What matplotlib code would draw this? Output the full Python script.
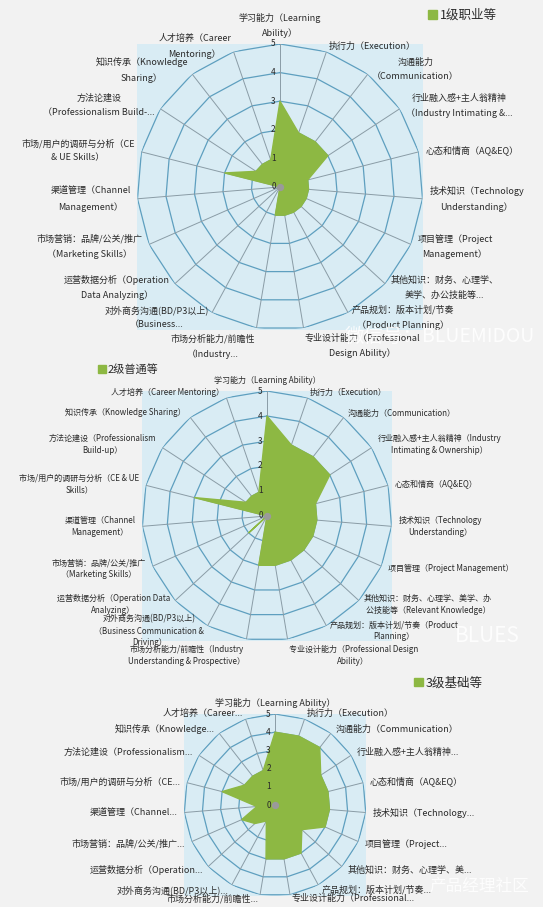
import numpy as np
import matplotlib.pyplot as plt
from matplotlib.patches import Rectangle

plt.rcParams['font.family'] = ['Noto Sans CJK SC', 'DejaVu Sans']

# skill scores per level, clockwise from the top (19 axes)
level_1 = [3, 2, 2, 2, 1, 1, 1, 1, 1, 1, 1, 0, 0, 0, 0, 2, 1, 1, 1]
level_2 = [4, 3, 3, 3, 2, 2, 2, 2, 2, 2, 2, 0, 1, 0, 0, 3, 1, 1, 1]
level_3 = [4, 4, 4, 3, 3, 3, 3, 2, 3, 3, 3, 1, 1.5, 2, 1, 3, 2, 2, 2]

legend_names = ['1级职业等', '2级普通等', '3级基础等']

# axis labels as they are wrapped / cut in each chart
labels_1 = [
    '学习能力（Learning\nAbility）',
    '执行力（Execution）',
    '沟通能力\n（Communication）',
    '行业融入感+主人翁精神\n（Industry Intimating &...',
    '心态和情商（AQ&EQ）',
    '技术知识（Technology\nUnderstanding）',
    '项目管理（Project\nManagement）',
    '其他知识：财务、心理学、\n美学、办公技能等...',
    '产品规划：版本计划/节奏\n（Product Planning）',
    '专业设计能力（Professional\nDesign Ability）',
    '市场分析能力/前瞻性\n（Industry...',
    '对外商务沟通(BD/P3以上)\n（Business...',
    '运营数据分析（Operation\nData Analyzing）',
    '市场营销：品牌/公关/推广\n（Marketing Skills）',
    '渠道管理（Channel\nManagement）',
    '市场/用户的调研与分析（CE\n& UE Skills）',
    '方法论建设\n（Professionalism Build-...',
    '知识传承（Knowledge\nSharing）',
    '人才培养（Career\nMentoring）',
]
labels_2 = [
    '学习能力（Learning Ability）',
    '执行力（Execution）',
    '沟通能力（Communication）',
    '行业融入感+主人翁精神（Industry\nIntimating & Ownership）',
    '心态和情商（AQ&EQ）',
    '技术知识（Technology\nUnderstanding）',
    '项目管理（Project Management）',
    '其他知识：财务、心理学、美学、办\n公技能等（Relevant Knowledge）',
    '产品规划：版本计划/节奏（Product\nPlanning）',
    '专业设计能力（Professional Design\nAbility）',
    '市场分析能力/前瞻性（Industry\nUnderstanding & Prospective）',
    '对外商务沟通(BD/P3以上)\n（Business Communication &\nDriving）',
    '运营数据分析（Operation Data\nAnalyzing）',
    '市场营销：品牌/公关/推广\n（Marketing Skills）',
    '渠道管理（Channel\nManagement）',
    '市场/用户的调研与分析（CE & UE\nSkills）',
    '方法论建设（Professionalism\nBuild-up）',
    '知识传承（Knowledge Sharing）',
    '人才培养（Career Mentoring）',
]
labels_3 = [
    '学习能力（Learning Ability）',
    '执行力（Execution）',
    '沟通能力（Communication）',
    '行业融入感+主人翁精神...',
    '心态和情商（AQ&EQ）',
    '技术知识（Technology...',
    '项目管理（Project...',
    '其他知识：财务、心理学、美...',
    '产品规划：版本计划/节奏...',
    '专业设计能力（Professional...',
    '市场分析能力/前瞻性...',
    '对外商务沟通(BD/P3以上)...',
    '运营数据分析（Operation...',
    '市场营销：品牌/公关/推广...',
    '渠道管理（Channel...',
    '市场/用户的调研与分析（CE...',
    '方法论建设（Professionalism...',
    '知识传承（Knowledge...',
    '人才培养（Career...',
]

GREEN = '#8db843'
BLUE = '#d9ecf4'
RING = '#5e9fbf'
SPOKE = '#8a9ca6'
TXT = '#2a2a2a'

fig = plt.figure(figsize=(5.43, 9.07), dpi=100, facecolor='#f2f2f2')


def radar(rect, values, labels, name, leg_xy, fs, lsp, leg_fs=9, bottom_va='top'):
    fig.patches.append(Rectangle(rect[:2], rect[2], rect[3], transform=fig.transFigure,
                                 facecolor=BLUE, edgecolor='none', zorder=-5))
    ax = fig.add_axes(rect, projection='polar')
    ax.set_facecolor('none')
    ax.set_theta_zero_location('N')
    ax.set_theta_direction(-1)
    ax.set_ylim(0, 5)
    ax.grid(False)
    ax.set_xticks([])
    ax.set_yticks([])
    ax.spines['polar'].set_visible(False)

    n = len(values)
    ang = np.linspace(0, 2 * np.pi, n, endpoint=False)
    closed = np.append(ang, ang[0])
    for r in range(1, 6):
        ax.plot(closed, [r] * (n + 1), color=RING, lw=0.9, zorder=1)
    for a in ang:
        ax.plot([a, a], [0, 5], color=SPOKE, lw=0.7, zorder=1)

    poly = ax.fill(closed, np.append(values, values[0]), color=GREEN, zorder=3, label=name)
    ax.scatter([0], [0], s=18, color='#9a9a9a', zorder=4)

    for r in range(6):
        ax.annotate(str(r), xy=(0, r), xytext=(-3, 0), textcoords='offset points',
                    ha='right', va='center', fontsize=6, color=TXT, zorder=5)

    for a, lab in zip(ang, labels):
        s, c = np.sin(a), np.cos(a)
        deg = np.degrees(a)
        ha = 'center' if abs(s) < 0.05 else ('left' if s > 0 else 'right')
        dy = 4 * c
        if deg < 10 or deg > 350:
            va = 'bottom'
        elif 160 < deg < 200:
            va = bottom_va
            if bottom_va == 'center':
                dy = -2.5
        else:
            va = 'center'
        ax.annotate(lab, xy=(a, 5), xytext=(5 * s, dy), textcoords='offset points',
                    ha=ha, va=va, fontsize=fs, color=TXT, multialignment='center',
                    linespacing=lsp, annotation_clip=False)

    fig.legend(handles=poly, labels=[name],
               loc='center left', bbox_to_anchor=leg_xy, frameon=False,
               fontsize=leg_fs, handlelength=0.7, handleheight=0.7, handletextpad=0.2,
               labelcolor=TXT)
    return ax


radar([0.2523, 0.6362, 0.5267, 0.3153], level_1, labels_1, legend_names[0],
      (0.768, 0.983), 6.5, 1.75)
radar([0.2615, 0.2933, 0.4604, 0.2756], level_2, labels_2, legend_names[1],
      (0.162, 0.593), 5.8, 1.4, leg_fs=8)
radar([0.3389, 0.0121, 0.3352, 0.2007], level_3, labels_3, legend_names[2],
      (0.742, 0.247), 6.5, 1.2, bottom_va='center')

# faint watermarks
fig.text(0.635, 0.623, '微信号：BLUEMIDOU', fontsize=14, color='white', alpha=0.85)
fig.text(0.838, 0.292, 'BLUES', fontsize=15, color='white', alpha=0.85)
fig.text(0.79, 0.018, '产品经理社区', fontsize=12, color='white', alpha=0.85)

fig.savefig('out.png', dpi=100, facecolor=fig.get_facecolor())
